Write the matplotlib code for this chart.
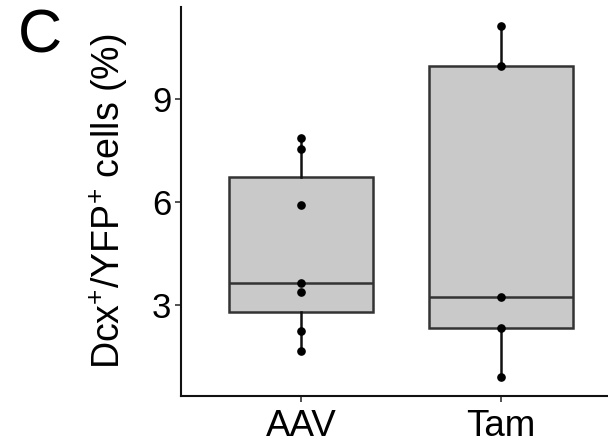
import matplotlib
matplotlib.use("Agg")
import matplotlib.pyplot as plt

plt.rcParams['font.family'] = ['Liberation Sans', 'DejaVu Sans']
plt.rcParams['mathtext.fontset'] = 'custom'
plt.rcParams['mathtext.rm'] = 'Liberation Sans'
plt.rcParams['mathtext.it'] = 'Liberation Sans'

categories = ["AAV", "Tam"]
aav_values = [7.86, 7.55, 5.92, 3.65, 3.37, 2.25, 1.67]
tam_values = [11.14, 9.95, 3.22, 2.34, 0.89]
yticks = [3, 6, 9]
ylabel = r"Dcx$^{+}$/YFP$^{+}$ cells (%)"
panel = "C"

fig = plt.figure(figsize=(6.08, 4.47), dpi=100)
ax = fig.add_axes([181/608, 1-396/447, 1-181/608, (396-7)/447])

data = [aav_values, tam_values]
positions = [1, 2]
bp = ax.boxplot(data, positions=positions, widths=0.72, whis=(0, 100),
                patch_artist=True, showfliers=False, showcaps=False,
                medianprops=dict(color="#333333", linewidth=1.8),
                boxprops=dict(facecolor="#c9c9c9", edgecolor="#333333", linewidth=1.8),
                whiskerprops=dict(color="#111111", linewidth=1.8))
for p, vals in zip(positions, data):
    ax.plot([p]*len(vals), vals, 'o', color='black', markersize=5.2, zorder=5)

ax.set_xlim(0.4, 0.4 + (608-181)/200)
ax.set_ylim(0.35, 11.68)
ax.set_xticks(positions)
ax.set_xticklabels(categories, fontsize=26.5)
ax.set_yticks(yticks)
ax.set_yticklabels([str(t) for t in yticks], fontsize=25)
ax.tick_params(axis='both', length=4, width=1.2, color='#333333', pad=3)
ax.tick_params(axis='x', pad=5)
for s in ['top', 'right']:
    ax.spines[s].set_visible(False)
for s in ['left', 'bottom']:
    ax.spines[s].set_linewidth(1.5)
    ax.spines[s].set_color('#111111')
ax.set_ylabel(ylabel, fontsize=27, labelpad=16)

fig.text(40/608, 1-37/447, panel, fontsize=44, ha='center', va='center')

fig.savefig("out.png", dpi=100)
